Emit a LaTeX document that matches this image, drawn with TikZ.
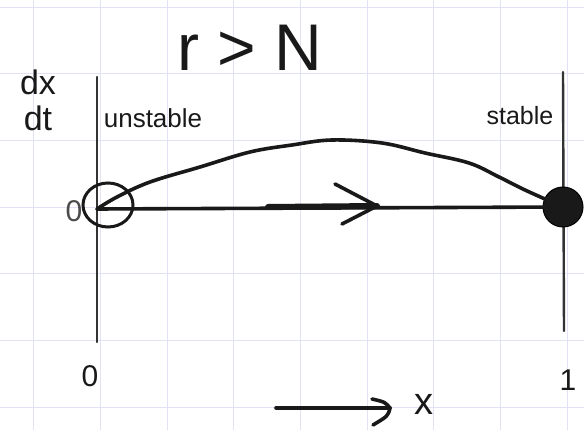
\documentclass[tikz,border=0pt]{standalone}
\usepackage{fontspec}
\usetikzlibrary{shapes.geometric}
\setmainfont{Liberation Sans}
\begin{document}
\begin{tikzpicture}[x=1pt,y=-1pt,
  gridline/.style={draw=gridc,line width=0.8pt},
  ink/.style={draw=black!90,line width=3.6pt,line cap=round,line join=round},
  axisline/.style={draw=black!80,line width=2.4pt,line cap=round},
  lab/.style={inner sep=0pt,text=black!90},
  openpt/.style={draw=black!90,line width=3pt,ellipse,minimum width=50pt,minimum height=44pt,inner sep=0pt},
  fillpt/.style={circle,fill=black!90,draw=black,line width=1pt,minimum size=40pt,inner sep=0pt}]
\definecolor{gridc}{RGB}{226,226,246}
\useasboundingbox (0,0) rectangle (584,430);
\fill[white] (0,0) rectangle (584,430);
% grid
\foreach \gx in {33.5,100.2,166.9,233.6,300.3,367,433.7,500.4,567.1} {\draw[gridline] (\gx,0) -- (\gx,430);}
\foreach \gy in {7,73.7,140.4,207.1,273.8,340.5,407.2} {\draw[gridline] (0,\gy) -- (584,\gy);}
% axes
\coordinate (l0) at (97,77);
\coordinate (l1) at (97,342);
\coordinate (r0) at (563,72);
\coordinate (r1) at (564,331);
\draw[axisline] (l0) -- (l1);
\draw[axisline] (r0) -- (r1);
% points
\node[openpt] (u) at (108,205) {};
\node[fillpt] (s) at (563,207) {};
\coordinate (uc) at (97,209);
% flow line
\draw[ink] (uc) -- (s.center);
\draw[ink] plot[smooth,tension=0.6] coordinates {(uc) (117,197) (150,182) (200,167) (250,152) (292,145) (332,140) (382,143) (425,153) (469,163) (499,177) (525,190) (s.center)};
% middle arrow
\coordinate (ma) at (268,207);
\coordinate (mb) at (377,206);
\coordinate (mt) at (335,184);
\coordinate (mm) at (342,224);
\draw[ink,line width=6pt] (ma) -- (mb);
\draw[ink] (mt) -- (mb) -- (mm);
% labels
\node[lab,font=\fontsize{66}{66}\selectfont] (title) at (250,48) {r > N};
\node[lab,align=center,font=\fontsize{34}{36}\selectfont] (dxdt) at (38,100) {dx\\dt};
\node[lab,font=\fontsize{26}{26}\selectfont] (unst) at (153,118) {unstable};
\node[lab,font=\fontsize{25}{25}\selectfont] (stab) at (520,116) {stable};
\node[lab,text=black!70,font=\fontsize{30}{30}\selectfont] (zy) at (74,211) {0};
\node[lab,font=\fontsize{30}{30}\selectfont] (z) at (90,376) {0};
\node[lab,font=\fontsize{30}{30}\selectfont] (one) at (568,380) {1};
% x-axis direction arrow
\coordinate (xa) at (276,408);
\coordinate (xb) at (390,408);
\coordinate (xt) at (372,399);
\coordinate (xm) at (373,425);
\draw[ink] (xa) -- (xb);
\draw[ink] (xt) .. controls (385,402) .. (xb) .. controls (388,416) .. (xm);
\node[lab,font=\fontsize{38}{38}\selectfont] (xl) at (424,404) {x};
\end{tikzpicture}
\end{document}
